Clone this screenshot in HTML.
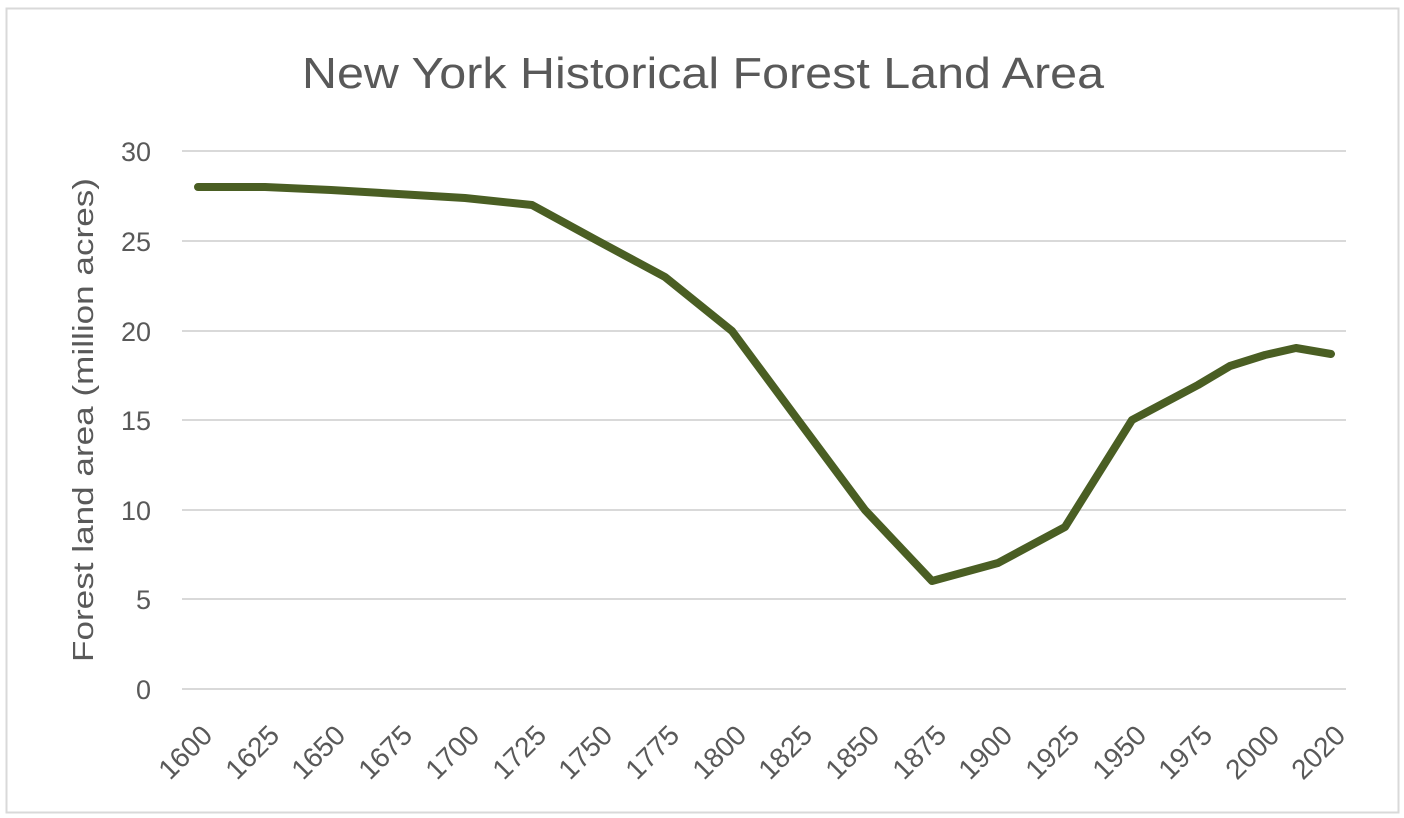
<!DOCTYPE html>
<html><head><meta charset="utf-8"><style>
html,body{margin:0;padding:0;background:#fff;}
svg{display:block;}
text{font-family:"Liberation Sans",sans-serif;fill:#595959;}
</style></head><body>
<svg width="1404" height="818" viewBox="0 0 1404 818">
<rect x="0" y="0" width="1404" height="818" fill="#fff"/>
<rect x="6.5" y="8.5" width="1392" height="804" fill="none" stroke="#d9d9d9" stroke-width="2"/>
<text x="703" y="88" font-size="44" text-anchor="middle" textLength="802" lengthAdjust="spacingAndGlyphs">New York Historical Forest Land Area</text>
<g stroke="#d9d9d9" stroke-width="2">
<line x1="182" x2="1346" y1="151" y2="151"/>
<line x1="182" x2="1346" y1="241" y2="241"/>
<line x1="182" x2="1346" y1="331" y2="331"/>
<line x1="182" x2="1346" y1="420" y2="420"/>
<line x1="182" x2="1346" y1="510" y2="510"/>
<line x1="182" x2="1346" y1="599" y2="599"/>
<line x1="182" x2="1346" y1="689" y2="689"/>
</g>
<g font-size="27" text-anchor="end">
<text x="151" y="161">30</text>
<text x="151" y="251">25</text>
<text x="151" y="341">20</text>
<text x="151" y="430">15</text>
<text x="151" y="520">10</text>
<text x="151" y="609">5</text>
<text x="151" y="699">0</text>
</g>
<text transform="translate(93,420) rotate(-90)" font-size="29" text-anchor="middle" textLength="484" lengthAdjust="spacingAndGlyphs">Forest land area (million acres)</text>
<g font-size="28" text-anchor="end">
<text transform="translate(214,737) rotate(-45)">1600</text>
<text transform="translate(281,737) rotate(-45)">1625</text>
<text transform="translate(347,737) rotate(-45)">1650</text>
<text transform="translate(414,737) rotate(-45)">1675</text>
<text transform="translate(481,737) rotate(-45)">1700</text>
<text transform="translate(548,737) rotate(-45)">1725</text>
<text transform="translate(614,737) rotate(-45)">1750</text>
<text transform="translate(681,737) rotate(-45)">1775</text>
<text transform="translate(748,737) rotate(-45)">1800</text>
<text transform="translate(814,737) rotate(-45)">1825</text>
<text transform="translate(881,737) rotate(-45)">1850</text>
<text transform="translate(948,737) rotate(-45)">1875</text>
<text transform="translate(1014,737) rotate(-45)">1900</text>
<text transform="translate(1081,737) rotate(-45)">1925</text>
<text transform="translate(1148,737) rotate(-45)">1950</text>
<text transform="translate(1214,737) rotate(-45)">1975</text>
<text transform="translate(1281,737) rotate(-45)">2000</text>
<text transform="translate(1347,737) rotate(-45)">2020</text>
</g>
<polyline fill="none" stroke="#4a5e23" stroke-width="8" stroke-linejoin="round" stroke-linecap="round"
points="198,187 265,187 331,190 398,194 465,198 532,205 598,241 665,277 732,331 798,420 865,510 932,581 998,563 1065,527 1132,420 1198,385 1230,366 1265,355 1296,348 1331,354"/>
</svg>
</body></html>
